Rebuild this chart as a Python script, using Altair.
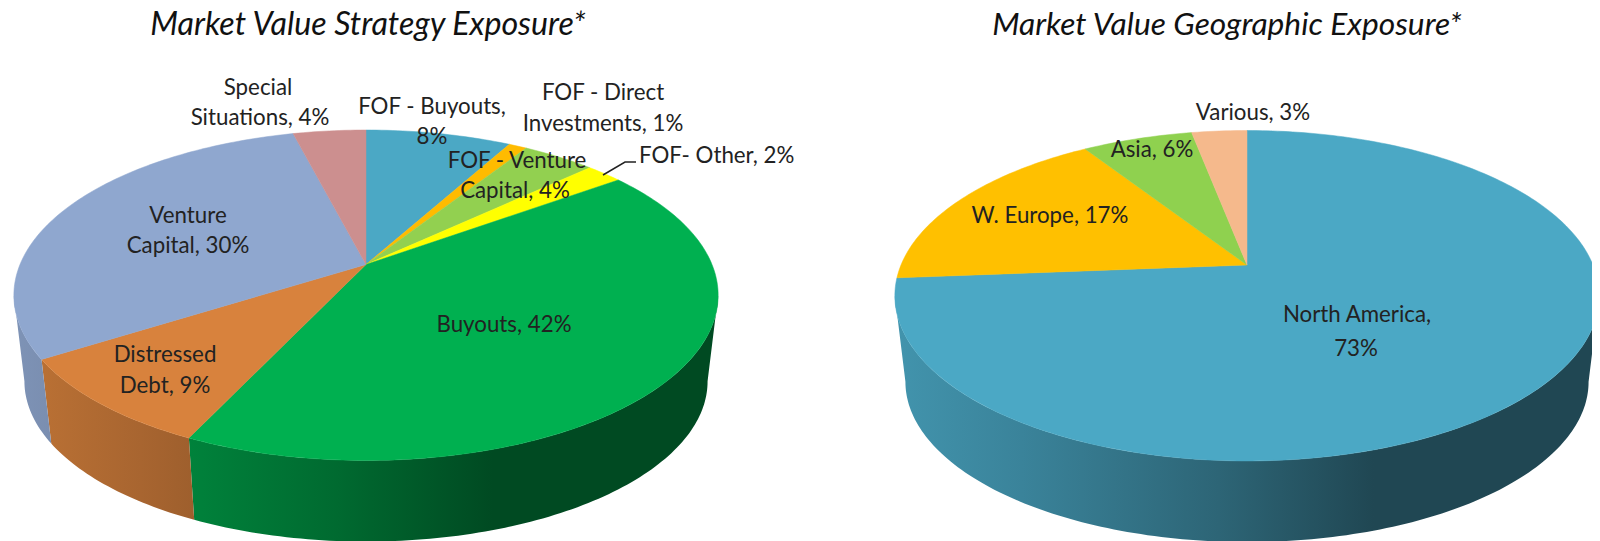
import math
import altair as alt
import pandas as pd

# ---- values
strategy_names = ["FOF - Buyouts", "FOF - Direct Investments", "FOF - Venture Capital", "FOF- Other",
                  "Buyouts", "Distressed Debt", "Venture Capital", "Special Situations"]
strategy_values = [8, 1, 4, 2, 42, 9, 30, 4]
strategy_colors = ["#4BA8C5", "#FFBB00", "#92D050", "#FFFF00", "#00B050", "#D8823D", "#8FA7CF", "#CC8F8F"]

geo_names = ["North America", "W. Europe", "Asia", "Various"]
geo_values = [73, 17, 6, 3]
geo_colors = ["#4BA8C5", "#FFC000", "#8FD14F", "#F5B98C"]

FONT = "Lato"
# (text, centre x, baseline y) in page pixels
labels = [
    ("Special", 258, 95), ("Situations, 4%", 260, 125),
    ("FOF - Buyouts,", 432, 114), ("8%", 432, 144),
    ("FOF - Direct", 603, 100), ("Investments, 1%", 603, 131),
    ("FOF - Venture", 517, 168), ("Capital, 4%", 515, 198),
    ("Venture", 188, 223), ("Capital, 30%", 188, 253),
    ("Distressed", 165, 362), ("Debt, 9%", 165, 393),
    ("Buyouts, 42%", 504, 332),
    ("Various, 3%", 1253, 120), ("Asia, 6%", 1152, 157),
    ("W. Europe, 17%", 1050, 223),
    ("North America,", 1357, 322), ("73%", 1356, 356),
]
left_labels = [("FOF- Other, 2%", 639, 163)]
title_left = [("Market Value Strategy Exposure*", 368, 35)]
title_right = [("Market Value Geographic Exposure*", 1227, 35)]
leader = [(603, 175), (625, 162), (636, 162)]

# ---- layout of the tilted disc
W, H = 1584, 533
PERSP, RX, RY = 0.186, 346.0, 159.5
DROP, BOTTOM_SCALE = 87.0, 0.97
CENTRES = [(366.0, 264.5), (1247.0, 265.0)]
SHADE = [(0.0, 0.88), (0.18, 0.78), (0.46, 0.60), (0.68, 0.42), (1.0, 0.42)]

X = alt.X("x:Q", scale=alt.Scale(domain=[8, 8 + W], nice=False, zero=False), axis=None)
Y = alt.Y("y:Q", scale=alt.Scale(domain=[8 + H, 8], nice=False, zero=False), axis=None)


def rim(cx, cy, deg, scale=1.0, drop=0.0):
    a = math.radians(deg)
    d = 1 + PERSP * math.cos(a)
    return (cx + scale * RX * math.sin(a) / d,
            cy + drop - scale * RY * math.cos(a) / d)


def sweep(a, b):
    n = max(2, int(abs(b - a)) + 1)
    return [a + (b - a) * i / (n - 1) for i in range(n)]


def shade_at(t):
    t = min(1.0, max(0.0, t))
    for (t0, s0), (t1, s1) in zip(SHADE, SHADE[1:]):
        if t <= t1:
            return s0 + (s1 - s0) * (t - t0) / (t1 - t0)
    return SHADE[-1][1]


def mix(color, s):
    r, g, b = (int(color[i:i + 2], 16) for i in (1, 3, 5))
    return "#%02x%02x%02x" % (round(r * s), round(g * s), round(b * s))


def frame(pts):
    return pd.DataFrame({"x": [p[0] for p in pts], "y": [p[1] for p in pts], "o": range(len(pts))})


def poly(pts, **kw):
    return alt.Chart(frame(pts)).mark_line(**kw).encode(x=X, y=Y, order="o:Q")


def pie_layers(values, colors, cx, cy):
    total = float(sum(values))
    limit = math.degrees(math.acos(-PERSP))
    xmid, half = cx, RX / math.sqrt(1 - PERSP ** 2)
    walls, tops = [], []
    acc = 0.0
    for v, c in zip(values, colors):
        a0, a1 = acc / total * 360, (acc + v) / total * 360
        acc += v
        w0, w1 = max(a0, limit), min(a1, 360 - limit)
        if w1 > w0:
            top = [rim(cx, cy, a) for a in sweep(w0, w1)]
            bot = [rim(cx, cy, a, BOTTOM_SCALE, DROP) for a in sweep(w1, w0)]
            pts = top + bot + top[:1]
            xs = [p[0] for p in pts]
            lo, hi = min(xs), max(xs)
            offs = sorted({0.0, 1.0} | {(xmid - half + 2 * half * t - lo) / (hi - lo)
                                        for t, _ in SHADE
                                        if 0 < (xmid - half + 2 * half * t - lo) / (hi - lo) < 1})
            stops = [alt.GradientStop(offset=o,
                                      color=mix(c, shade_at((lo + o * (hi - lo) - xmid + half) / (2 * half))))
                     for o in offs]
            fill = alt.LinearGradient(gradient="linear", stops=stops, x1=0, x2=1, y1=0, y2=0)
            walls.append(poly(pts, fill=fill, strokeOpacity=0))
        pts = [(cx, cy)] + [rim(cx, cy, a) for a in sweep(a0, a1)] + [(cx, cy)]
        tops.append(poly(pts, fill=c, stroke=c, strokeWidth=0.5))
    return walls + tops


layers = []
layers += pie_layers(strategy_values, strategy_colors, *CENTRES[0])
layers += pie_layers(geo_values, geo_colors, *CENTRES[1])

layers.append(poly(leader, color="#222222", strokeWidth=1.5))


def text_layer(rows, **kw):
    df = pd.DataFrame(rows, columns=["t", "x", "y"])
    return alt.Chart(df).mark_text(font=FONT, baseline="alphabetic", **kw).encode(x=X, y=Y, text="t:N")


layers.append(text_layer(labels, align="center", fontSize=22.3, color="#222222"))
layers.append(text_layer(left_labels, align="left", fontSize=22.3, color="#222222"))
layers.append(text_layer(title_left, align="center", fontSize=32.2, fontStyle="italic", color="#111111"))
layers.append(text_layer(title_right, align="center", fontSize=31.7, fontStyle="italic", color="#111111"))

chart = alt.layer(*layers).properties(
    width=W, height=H, padding=0, autosize=alt.AutoSizeParams(type="none")
).configure_view(stroke=None)

chart.save("out.html", embed_options={"renderer": "svg", "actions": False})
